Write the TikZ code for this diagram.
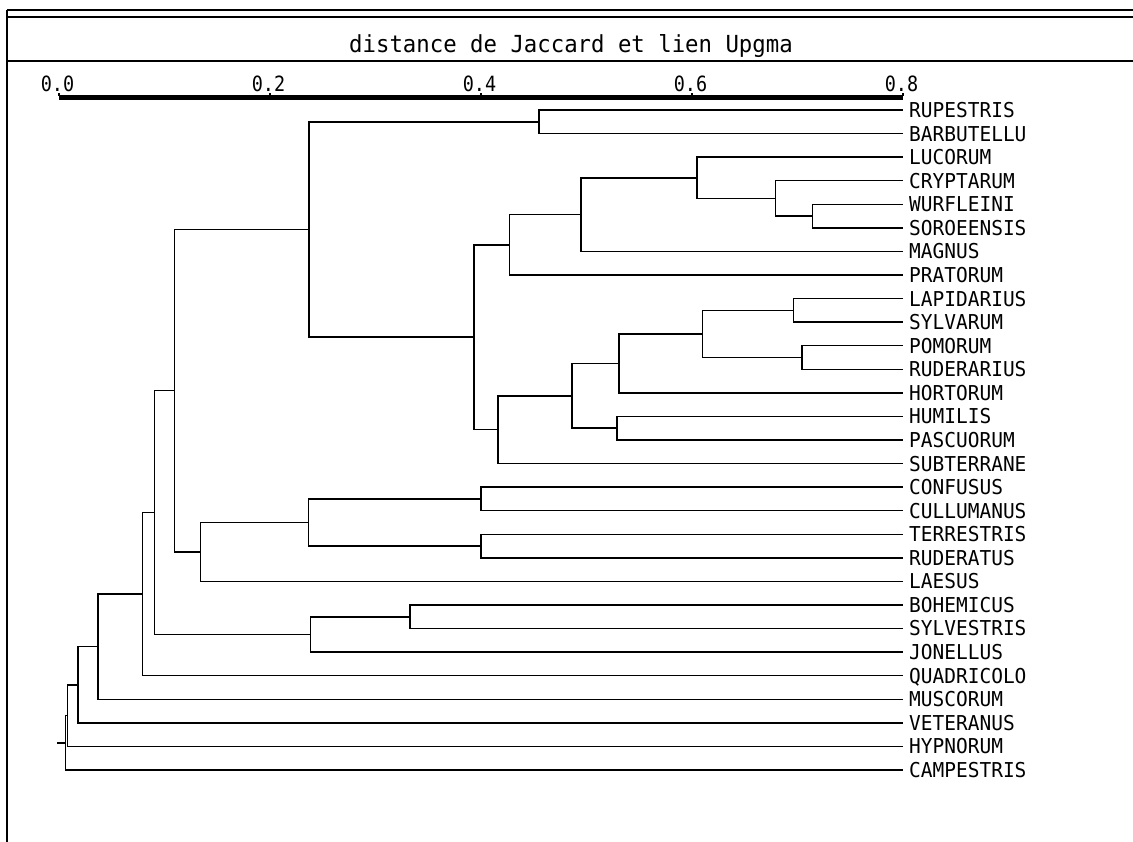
\documentclass[tikz,border=0pt]{standalone}
\usepackage{fontspec}
\newfontfamily\plotfont[FakeStretch=0.95]{DejaVu Sans Mono}
\newfontfamily\axisfont[FakeStretch=0.88]{DejaVu Sans Mono}
\newcommand{\yy}[1]{110+23.57*#1}
\tikzset{
  frameline/.style={line width=1.5pt, black},
  branch/.style={line width=1.5pt, black, line cap=rect},
  leaflabel/.style={anchor=west, inner sep=0pt, text height=14.9pt, text depth=0pt,
    font=\plotfont\fontsize{20.5pt}{20.5pt}\selectfont},
  axislabel/.style={anchor=base, inner sep=0pt, font=\axisfont\fontsize{21pt}{21pt}\selectfont},
  titlelabel/.style={anchor=base, inner sep=0pt, font=\plotfont\fontsize{23.5pt}{23.5pt}\selectfont},
}
\begin{document}
\begin{tikzpicture}[x=1pt,y=-1pt]
\useasboundingbox (0,0) rectangle (1133,842);
% frame
\coordinate (ftl) at (7,10);
\coordinate (ftr) at (1133,10);
\coordinate (f2l) at (7,17);
\coordinate (f2r) at (1133,17);
\coordinate (fsl) at (7,61);
\coordinate (fsr) at (1133,61);
\coordinate (fbl) at (7,842);
\draw[frameline] (ftl) -- (ftr);
\draw[frameline] (f2l) -- (f2r);
\draw[frameline] (fsl) -- (fsr);
\draw[frameline] (ftl) -- (fbl);
% title
\node[titlelabel] (title) at (571,53) {distance de Jaccard et lien Upgma};
% axis
\coordinate (ax0) at (59,97.3);
\coordinate (ax1) at (903,97.3);
\draw[line width=5.5pt] (ax0) -- (ax1);
\foreach \v/\x [count=\k from 0] in {0.0/59,0.2/270,0.4/481,0.6/692,0.8/903}{
  \coordinate (tk\k) at (\x,92.6);
  \coordinate (tb\k) at (\x,96);
  \draw[line width=1.5pt] (tb\k) -- (tk\k);
  \node[axislabel] (tl\k) at (\x-1.5,91.8) {\v};
}
% leaves
\foreach \n [count=\i from 0] in {RUPESTRIS,BARBUTELLU,LUCORUM,CRYPTARUM,WURFLEINI,SOROEENSIS,MAGNUS,PRATORUM,LAPIDARIUS,SYLVARUM,POMORUM,RUDERARIUS,HORTORUM,HUMILIS,PASCUORUM,SUBTERRANE,CONFUSUS,CULLUMANUS,TERRESTRIS,RUDERATUS,LAESUS,BOHEMICUS,SYLVESTRIS,JONELLUS,QUADRICOLO,MUSCORUM,VETERANUS,HYPNORUM,CAMPESTRIS}{
  \coordinate (l\i) at (902.5,{\yy{\i}});
  \node[leaflabel] (n\i) at (909,{\yy{\i}}) {\n};
}
% internal nodes
\coordinate (a1) at (539,{\yy{0.5}});
\coordinate (a2) at (812.5,{\yy{4.5}});
\coordinate (a3) at (775.5,{\yy{3.75}});
\coordinate (a4) at (697,{\yy{2.875}});
\coordinate (a5) at (581,{\yy{4.4375}});
\coordinate (a6) at (509.5,{\yy{5.71875}});
\coordinate (b1) at (793.5,{\yy{8.5}});
\coordinate (b2) at (802,{\yy{10.5}});
\coordinate (b3) at (702.5,{\yy{9.5}});
\coordinate (b4) at (619,{\yy{10.75}});
\coordinate (b5) at (617,{\yy{13.5}});
\coordinate (b6) at (572,{\yy{12.125}});
\coordinate (b7) at (498,{\yy{13.5625}});
\coordinate (c1) at (474,{\yy{9.640625}});
\coordinate (c2) at (309,{\yy{5.0703125}});
\coordinate (d1) at (481,{\yy{16.5}});
\coordinate (d2) at (481,{\yy{18.5}});
\coordinate (d3) at (308.6,{\yy{17.5}});
\coordinate (d4) at (200.7,{\yy{18.75}});
\coordinate (e1) at (174.3,{\yy{11.91015625}});
\coordinate (f1) at (410,{\yy{21.5}});
\coordinate (f2) at (310.7,{\yy{22.25}});
\coordinate (g1) at (154.3,{\yy{17.080078125}});
\coordinate (g2) at (142.5,{\yy{20.5400390625}});
\coordinate (g3) at (98,{\yy{22.77001953}});
\coordinate (g4) at (78,{\yy{24.385009765}});
\coordinate (g5) at (67.5,{\yy{25.6925048828}});
\coordinate (g6) at (65.5,{\yy{26.8462524414}});
\coordinate (root) at (58,{\yy{26.8462524414}});
% branches
\draw[branch] (l0) -| (a1) |- (l1);
\draw[branch] (l4) -| (a2) |- (l5);
\draw[branch] (l3) -| (a3) |- (a2);
\draw[branch] (l2) -| (a4) |- (a3);
\draw[branch] (a4) -| (a5) |- (l6);
\draw[branch] (a5) -| (a6) |- (l7);
\draw[branch] (l8) -| (b1) |- (l9);
\draw[branch] (l10) -| (b2) |- (l11);
\draw[branch] (b1) -| (b3) |- (b2);
\draw[branch] (b3) -| (b4) |- (l12);
\draw[branch] (l13) -| (b5) |- (l14);
\draw[branch] (b4) -| (b6) |- (b5);
\draw[branch] (b6) -| (b7) |- (l15);
\draw[branch] (a6) -| (c1) |- (b7);
\draw[branch] (a1) -| (c2) |- (c1);
\draw[branch] (l16) -| (d1) |- (l17);
\draw[branch] (l18) -| (d2) |- (l19);
\draw[branch] (d1) -| (d3) |- (d2);
\draw[branch] (d3) -| (d4) |- (l20);
\draw[branch] (c2) -| (e1) |- (d4);
\draw[branch] (l21) -| (f1) |- (l22);
\draw[branch] (f1) -| (f2) |- (l23);
\draw[branch] (e1) -| (g1) |- (f2);
\draw[branch] (g1) -| (g2) |- (l24);
\draw[branch] (g2) -| (g3) |- (l25);
\draw[branch] (g3) -| (g4) |- (l26);
\draw[branch] (g4) -| (g5) |- (l27);
\draw[branch] (g5) -| (g6) |- (l28);
\draw[branch] (root) -- (g6);
\end{tikzpicture}
\end{document}
